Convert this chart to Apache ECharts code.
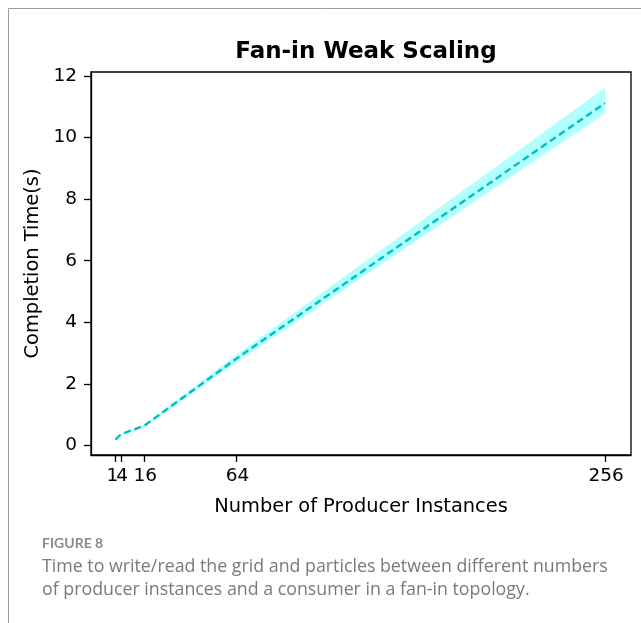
<!DOCTYPE html>
<html>
<head>
<meta charset="utf-8">
<script src="https://cdn.jsdelivr.net/npm/echarts@6/dist/echarts.min.js"></script>
<style>
html,body{margin:0;padding:0;background:#fff;}
#c{width:641px;height:623px;}
</style>
</head>
<body>
<div id="c"></div>
<script>
var producers = [1, 4, 16, 64, 256];
var meanTime = [0.19, 0.37, 0.64, 2.82, 11.12];
var lowTime = [0.17, 0.34, 0.60, 2.70, 10.78];
var highTime = [0.21, 0.40, 0.68, 2.95, 11.62];
var xTicksMain = [4, 16, 64, 256];
var xTicksFirst = [1];
var yTicks = [0, 2, 4, 6, 8, 10, 12];

var chart = echarts.init(document.getElementById('c'));
var font = 'DejaVu Sans';
var bandData = producers.map(function (p, i) { return [p, lowTime[i], highTime[i]]; });
var lineData = producers.map(function (p, i) { return [p, meanTime[i]]; });

function xAxisDef(ticks, withName, showLine, pad) {
  return {
    type: 'value', min: -11.75, max: 269.5, position: 'bottom',
    name: withName ? 'Number of Producer Instances' : '', nameLocation: 'middle', nameGap: 42,
    nameTextStyle: {fontFamily: font, fontSize: 19.4, color: '#000'},
    splitLine: {show: false},
    axisLine: {show: showLine, onZero: false, lineStyle: {color: '#000', width: 1.3}},
    axisTick: {show: true, customValues: ticks, length: 7, lineStyle: {color: '#000', width: 1.3}},
    axisLabel: {customValues: ticks, hideOverlap: false, fontFamily: font, fontSize: 18.5, color: '#000', margin: 12, padding: pad}
  };
}

chart.setOption({
  animation: false,
  backgroundColor: '#fff',
  title: {
    text: 'Fan-in Weak Scaling',
    left: 361, top: 36, textAlign: 'center',
    textStyle: {fontFamily: font, fontWeight: 'bold', fontSize: 23, color: '#000'}
  },
  grid: {left: 91, top: 72, right: 10, bottom: 168, show: true, borderColor: '#000', borderWidth: 1.3, backgroundColor: 'transparent'},
  xAxis: [xAxisDef(xTicksMain, true, true, [0, 0, 0, 2]), xAxisDef(xTicksFirst, false, false, [0, 6, 0, 0])],
  yAxis: {
    type: 'value', min: -0.31, max: 12.13,
    name: 'Completion Time(s)', nameLocation: 'middle', nameGap: 47,
    nameTextStyle: {fontFamily: font, fontSize: 19.4, color: '#000'},
    splitLine: {show: false},
    axisLine: {show: true, onZero: false, lineStyle: {color: '#000', width: 1.3}},
    axisTick: {show: true, customValues: yTicks, length: 7, lineStyle: {color: '#000', width: 1.3}},
    axisLabel: {customValues: yTicks, hideOverlap: false, fontFamily: font, fontSize: 18.5, color: '#000', margin: 14}
  },
  series: [
    {
      type: 'custom',
      data: bandData,
      silent: true,
      renderItem: function (params, api) {
        if (params.dataIndex !== 0) return null;
        var pts = [];
        for (var i = 0; i < bandData.length; i++) pts.push(api.coord([bandData[i][0], bandData[i][2]]));
        for (var j = bandData.length - 1; j >= 0; j--) pts.push(api.coord([bandData[j][0], bandData[j][1]]));
        return {type: 'polygon', shape: {points: pts}, style: {fill: 'rgba(0,255,255,0.3)', stroke: null}};
      },
      z: 1
    },
    {
      type: 'line',
      data: lineData,
      showSymbol: false,
      lineStyle: {color: '#00bfbf', width: 2.4, type: [7, 4]},
      z: 2
    }
  ],
  graphic: [
    {type: 'line', shape: {x1: 8.5, y1: 8.5, x2: 641, y2: 8.5}, style: {stroke: '#9a9a9a', lineWidth: 1}},
    {type: 'line', shape: {x1: 8.5, y1: 8.5, x2: 8.5, y2: 623}, style: {stroke: '#9a9a9a', lineWidth: 1}},
    {type: 'text', left: 42, top: 536, style: {text: 'FIGURE 8', fontFamily: 'Lato', fontSize: 14, fontWeight: 'bold', fill: '#8a8a8a'}},
    {type: 'text', left: 42, top: 558, style: {text: 'Time to write/read the grid and particles between different numbers', fontFamily: 'Open Sans', fontSize: 17.8, fill: '#7a7a7a'}},
    {type: 'text', left: 42, top: 581, style: {text: 'of producer instances and a consumer in a fan-in topology.', fontFamily: 'Open Sans', fontSize: 17.8, fill: '#7a7a7a'}}
  ]
});
</script>
</body>
</html>
